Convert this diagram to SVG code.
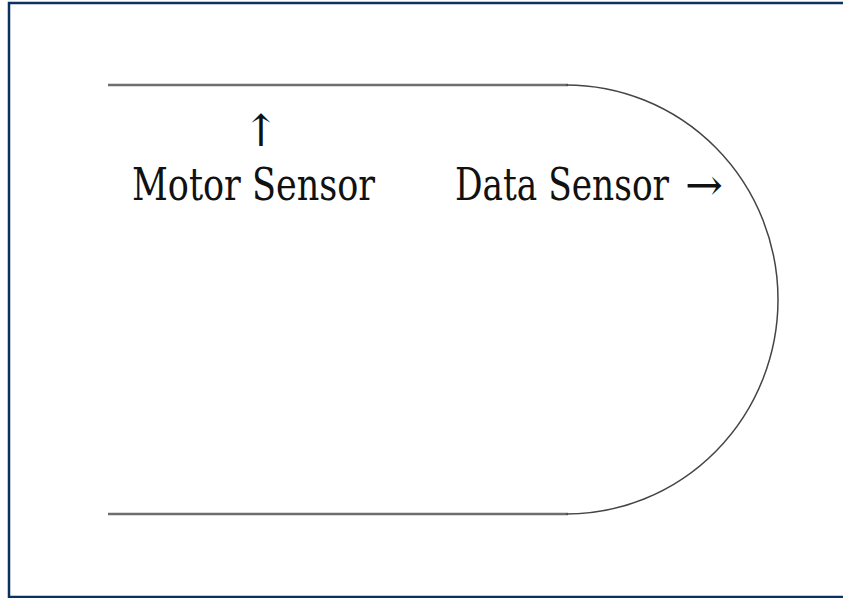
<svg xmlns="http://www.w3.org/2000/svg" width="843" height="598" viewBox="0 0 843 598">
<style>
.frame{fill:none;stroke:#0b3160;stroke-width:2.5}
.rail{stroke:#6e6e6e;stroke-width:2.5;fill:none}
.curve{stroke:#444;stroke-width:1.5;fill:none}
.lbl{font-family:"DejaVu Serif",serif;font-size:44px;fill:#111}
</style>
<rect width="843" height="598" fill="#fff"/>
<path class="frame" d="M 845 3 L 9 3 L 9 597 L 845 597"/>
<g id="track">
<line class="rail" x1="108" y1="85" x2="568" y2="85"/>
<line class="rail" x1="108" y1="514" x2="568" y2="514"/>
<path class="curve" d="M 566 85 A 212 214.5 0 0 1 566 514"/>
</g>
<g id="motor-sensor">
<text class="lbl" x="261" y="146" text-anchor="middle" font-size="40">↑</text>
<text class="lbl" x="132" y="200" textLength="243" lengthAdjust="spacingAndGlyphs">Motor Sensor</text>
</g>
<g id="data-sensor">
<text class="lbl" x="455" y="200" textLength="214" lengthAdjust="spacingAndGlyphs">Data Sensor</text>
<text class="lbl" x="685" y="200" font-size="40" textLength="38" lengthAdjust="spacingAndGlyphs">→</text>
</g>
</svg>
